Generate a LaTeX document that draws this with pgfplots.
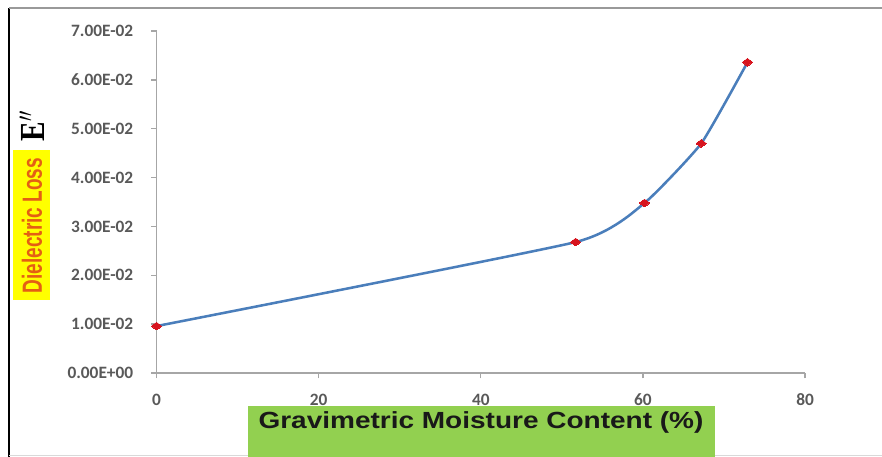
\documentclass[border=0pt]{standalone}
\usepackage{pgfplots}
\pgfplotsset{compat=1.18}
\usepackage{fontspec}
\setmainfont{Liberation Sans}
\newfontfamily\calfont{Carlito}
\newfontfamily\seriffont{Liberation Serif}
\definecolor{tickgray}{RGB}{89,89,89}
\definecolor{axgray}{RGB}{166,166,166}
\definecolor{lineblue}{RGB}{74,126,187}
\definecolor{mkred}{RGB}{215,20,30}
\definecolor{ylw}{RGB}{255,255,0}
\definecolor{grn}{RGB}{146,208,80}
\definecolor{orng}{RGB}{228,95,20}
\begin{document}
\begin{tikzpicture}[x=0.75pt,y=0.75pt]
\useasboundingbox (0,0) rectangle (882,457);
\fill[white] (0,0) rectangle (882,457);
\draw[black, line width=1.5pt] (9,0) -- (9,449);
\draw[gray!80, line width=1.5pt] (9,449) -- (882,449);
\draw[gray!30, line width=0.75pt] (9,1) -- (882,1);
% y label
\fill[ylw] (13,157) rectangle (50,307);
\node[rotate=90, text=orng, inner sep=0pt] at (32,231.5)
  {\scalebox{0.89}[1.3]{\fontsize{16}{16}\selectfont\bfseries Dielectric Loss}};
\node[rotate=90, text=black, inner sep=0pt] at (32,331)
  {\scalebox{1}[1.2]{\fontsize{22}{22}\selectfont\seriffont\bfseries E$''$}};
% x label
\fill[grn] (248,0) rectangle (715,51);
\node[text=black!90, inner sep=0pt] at (481,35)
  {\scalebox{1.2}[1]{\fontsize{17.5}{18}\selectfont\bfseries Gravimetric Moisture Content (\%)}};
\begin{axis}[
  at={(117.4pt,63pt)}, anchor=south west,
  scale only axis, width=486.4pt, height=256.5pt,
  xmin=0, xmax=80, ymin=0, ymax=0.07,
  scaled y ticks=false,
  axis x line*=bottom, axis y line*=left,
  axis line style={draw=axgray, line width=1.1pt, -},
  tick style={draw=axgray, line width=1pt},
  tick align=outside, major tick length=4pt,
  xtick={0,20,40,60,80},
  xticklabels={0,20,40,60,80},
  ytick={0,0.01,0.02,0.03,0.04,0.05,0.06,0.07},
  yticklabels={0.00E+00,1.00E-02,2.00E-02,3.00E-02,4.00E-02,5.00E-02,6.00E-02,7.00E-02},
  tick label style={font=\calfont\bfseries\fontsize{13}{14}\selectfont, text=tickgray},
  x tick label style={yshift=-8pt},
  y tick label style={xshift=-10pt},
  clip=false,
]
\addplot[color=lineblue, line width=1.9pt, smooth, tension=0.27, mark=none]
  coordinates {(0,0.0096) (51.7,0.0268) (60.2,0.0348) (67.2,0.0470) (72.9,0.0636)};
\addplot[only marks, mark=diamond*, mark size=3.9pt,
  mark options={fill=mkred, draw=mkred, rotate=90, line width=0pt}]
  coordinates {(0,0.0096) (51.7,0.0268) (60.2,0.0348) (67.2,0.0470) (72.9,0.0636)};
\end{axis}
\end{tikzpicture}
\end{document}
